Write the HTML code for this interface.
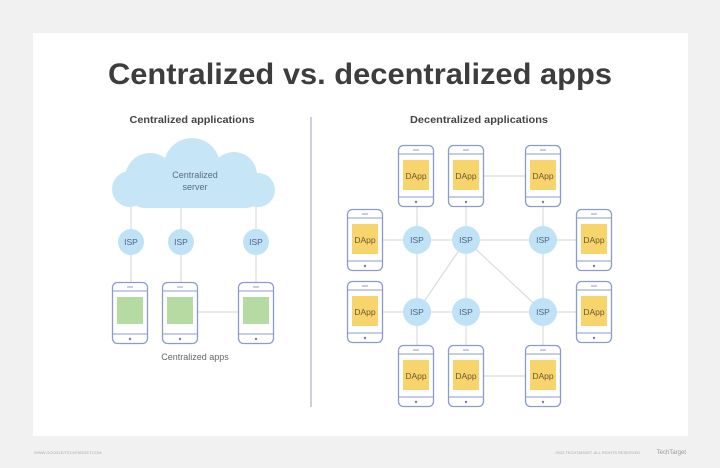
<!DOCTYPE html>
<html><head><style>
html,body{margin:0;padding:0;background:#f1f1f1;}
svg{display:block;}
text{font-family:"Liberation Sans",sans-serif;}
</style></head><body>
<svg width="720" height="468" viewBox="0 0 720 468" xmlns="http://www.w3.org/2000/svg">
<defs>
<g id="ph">
<rect x="0.5" y="0.5" width="35" height="61" rx="5" fill="#fff" stroke="#8d9bcc" stroke-width="1.3"/>
<line x1="0.5" y1="9" x2="35.5" y2="9" stroke="#8d9bcc" stroke-width="1"/>
<line x1="0.5" y1="52" x2="35.5" y2="52" stroke="#8d9bcc" stroke-width="1"/>
<line x1="15" y1="5" x2="21" y2="5" stroke="#8d9bcc" stroke-width="1"/>
<circle cx="18" cy="57" r="1.2" fill="#6f7fb5"/>
</g>
</defs>
<rect x="0" y="0" width="720" height="468" fill="#f1f1f1"/>
<rect x="33" y="33" width="655" height="403" fill="#fff"/>
<text x="360" y="84" text-anchor="middle" font-size="30" font-weight="bold" fill="#3d3d3d" textLength="504" lengthAdjust="spacingAndGlyphs">Centralized vs. decentralized apps</text>
<text x="192" y="123" text-anchor="middle" font-size="10.5" font-weight="bold" fill="#444" textLength="125" lengthAdjust="spacingAndGlyphs">Centralized applications</text>
<text x="479" y="123" text-anchor="middle" font-size="10.5" font-weight="bold" fill="#444" textLength="138" lengthAdjust="spacingAndGlyphs">Decentralized applications</text>
<line x1="311" y1="117" x2="311" y2="407" stroke="#9aa0b5" stroke-width="1"/>

<!-- left -->
<g stroke="#dcdcdc" stroke-width="1.2">
<line x1="131" y1="200" x2="131" y2="282"/>
<line x1="181" y1="200" x2="181" y2="282"/>
<line x1="256" y1="200" x2="256" y2="282"/>
<line x1="198" y1="312" x2="238" y2="312"/>
</g>
<g fill="#c6e6f8">
<circle cx="150" cy="178" r="25"/>
<circle cx="192" cy="166" r="28"/>
<circle cx="234" cy="175" r="23"/>
<circle cx="130" cy="189" r="18"/>
<circle cx="258" cy="190" r="17"/>
<rect x="130" y="178" width="130" height="30" rx="14"/>
</g>
<text x="195" y="178" text-anchor="middle" font-size="9" fill="#5a6d80">Centralized</text>
<text x="195" y="190" text-anchor="middle" font-size="9" fill="#5a6d80">server</text>
<g fill="#bfe2f6">
<circle cx="131" cy="242" r="13"/><circle cx="181" cy="242" r="13"/><circle cx="256" cy="242" r="13"/>
</g>
<g font-size="8.5" fill="#4f6580" text-anchor="middle">
<text x="131" y="245">ISP</text><text x="181" y="245">ISP</text><text x="256" y="245">ISP</text>
</g>
<use href="#ph" x="112" y="282"/><use href="#ph" x="162" y="282"/><use href="#ph" x="238" y="282"/>
<g fill="#b5dba3">
<rect x="117" y="297" width="26" height="27"/><rect x="167" y="297" width="26" height="27"/><rect x="243" y="297" width="26" height="27"/>
</g>
<text x="195" y="360" text-anchor="middle" font-size="9" fill="#666">Centralized apps</text>

<!-- right -->
<g stroke="#dcdcdc" stroke-width="1.2">
<line x1="417" y1="240" x2="543" y2="240"/>
<line x1="417" y1="312" x2="543" y2="312"/>
<line x1="417" y1="207" x2="417" y2="345"/>
<line x1="466" y1="207" x2="466" y2="345"/>
<line x1="543" y1="207" x2="543" y2="345"/>
<line x1="417" y1="312" x2="466" y2="240"/>
<line x1="466" y1="240" x2="543" y2="312"/>
<line x1="383" y1="240" x2="417" y2="240"/>
<line x1="383" y1="312" x2="417" y2="312"/>
<line x1="543" y1="240" x2="576" y2="240"/>
<line x1="543" y1="312" x2="576" y2="312"/>
<line x1="484" y1="176" x2="525" y2="176"/>
<line x1="484" y1="376" x2="525" y2="376"/>
</g>
<g fill="#bfe2f6">
<circle cx="417" cy="240" r="14"/><circle cx="466" cy="240" r="14"/><circle cx="543" cy="240" r="14"/>
<circle cx="417" cy="312" r="14"/><circle cx="466" cy="312" r="14"/><circle cx="543" cy="312" r="14"/>
</g>
<g font-size="8.5" fill="#4f6580" text-anchor="middle">
<text x="417" y="243">ISP</text><text x="466" y="243">ISP</text><text x="543" y="243">ISP</text>
<text x="417" y="315">ISP</text><text x="466" y="315">ISP</text><text x="543" y="315">ISP</text>
</g>
<use href="#ph" x="398" y="145"/><use href="#ph" x="448" y="145"/><use href="#ph" x="525" y="145"/>
<use href="#ph" x="347" y="209"/><use href="#ph" x="347" y="281"/>
<use href="#ph" x="576" y="209"/><use href="#ph" x="576" y="281"/>
<use href="#ph" x="398" y="345"/><use href="#ph" x="448" y="345"/><use href="#ph" x="525" y="345"/>
<g fill="#f8d46c">
<rect x="403" y="160" width="26" height="30"/><rect x="453" y="160" width="26" height="30"/><rect x="530" y="160" width="26" height="30"/>
<rect x="352" y="224" width="26" height="30"/><rect x="352" y="296" width="26" height="30"/>
<rect x="581" y="224" width="26" height="30"/><rect x="581" y="296" width="26" height="30"/>
<rect x="403" y="360" width="26" height="30"/><rect x="453" y="360" width="26" height="30"/><rect x="530" y="360" width="26" height="30"/>
</g>
<g font-size="8.5" fill="#6a5a30" text-anchor="middle">
<text x="416" y="179">DApp</text><text x="466" y="179">DApp</text><text x="543" y="179">DApp</text>
<text x="365" y="243">DApp</text><text x="365" y="315">DApp</text>
<text x="594" y="243">DApp</text><text x="594" y="315">DApp</text>
<text x="416" y="379">DApp</text><text x="466" y="379">DApp</text><text x="543" y="379">DApp</text>
</g>
<text x="34" y="454" font-size="4" fill="#aaa">WWW.GOOGLE/TECHTARGET.COM</text>
<text x="640" y="454" text-anchor="end" font-size="4" fill="#aaa">2022 TECHTARGET. ALL RIGHTS RESERVED</text>
<text x="686" y="454" text-anchor="end" font-size="6" fill="#999">TechTarget</text>
</svg>
</body></html>
